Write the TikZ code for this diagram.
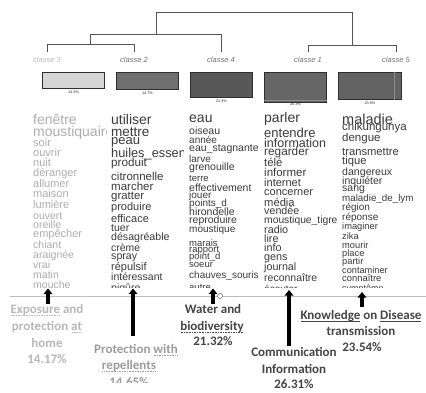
\documentclass[tikz,border=0pt]{standalone}
\usepackage{fontspec}
\setmainfont{Liberation Sans}
\newfontfamily\lblfont{Carlito}
\usetikzlibrary{arrows.meta}
\definecolor{dgray}{HTML}{555555}
\definecolor{clsgray}{HTML}{707070}
\definecolor{clslight}{HTML}{B8B8B8}
\definecolor{boxline}{HTML}{2E2E2E}
\definecolor{bA}{HTML}{D6D6D6}
\definecolor{bB}{HTML}{6F6F6F}
\definecolor{bC}{HTML}{585858}
\definecolor{bD}{HTML}{666666}
\definecolor{bE}{HTML}{626262}
\definecolor{wlight}{HTML}{ADADAD}
\definecolor{wdark}{HTML}{3A3A3A}
\definecolor{lone}{HTML}{B8B8B8}
\definecolor{ltwo}{HTML}{9C9C9C}
\definecolor{ldark}{HTML}{454545}
\definecolor{hline}{HTML}{BDBDBD}
\newcommand\dotu[1]{\setbox0\hbox{#1}\rlap{\copy0}\lower2.6pt\hbox to\wd0{\xleaders\hbox to 1.6pt{\hss\vrule width 0.9pt height 0.9pt\hss}\hfill}}
\newcommand\solu[1]{\setbox0\hbox{#1}\rlap{\copy0}\lower2.4pt\hbox to\wd0{\leaders\vrule height 0.7pt\hfill}}
\begin{document}
\begin{tikzpicture}[x=1pt,y=-1pt,
  dend/.style={draw=dgray, line width=0.8pt},
  cls/.style={font=\fontsize{7.5}{7.5}\selectfont\itshape, text=clsgray, inner sep=0},
  clsbox/.style={draw=boxline, line width=0.8pt, anchor=north west, inner sep=0, minimum width=62pt},
  pct/.style={font=\fontsize{3.8}{3.8}\selectfont, text=black!85, inner sep=0},
  word/.style={anchor=base west, inner sep=0, text=wdark},
  lbl/.style={font=\lblfont\bfseries\fontsize{13}{13}\selectfont, anchor=base, inner sep=0},
  uparrow/.style={line width=3.2pt, -{Triangle[width=8.5pt,length=5.5pt]}}]
\useasboundingbox (0,0) rectangle (426,392);

% dendrogram
\node[cls, text=clslight] (k3) at (47,59.5) {classe 3};
\node[cls] (k2) at (134,59.5) {classe 2};
\node[cls] (k4) at (221,59.5) {classe 4};
\node[cls] (k1) at (308,59.5) {classe 1};
\node[cls] (k5) at (396,59.5) {classe 5};
\coordinate (t3) at (47,52);
\coordinate (t2) at (134,52);
\coordinate (t4) at (221,52);
\coordinate (t1) at (308,52);
\coordinate (t5) at (396,52);
\coordinate (m32) at (90.5,44);
\coordinate (m324) at (156,34);
\coordinate (m15) at (352,45);
\draw[dend] (t3) -- ++(0,-8) -| (t2);
\draw[dend] (m32) -- ++(0,-10) -| (t4);
\draw[dend] (t1) -- ++(0,-7) -| (t5);
\draw[dend] (m324) -- ++(0,-22) -| (m15);

% boxes
\node[clsbox, fill=bA, minimum height=16pt] (b3) at (42,72) {};
\node[clsbox, fill=bB, minimum height=17pt] (b2) at (116,72) {};
\node[clsbox, fill=bC, minimum height=25pt] (b4) at (190,72) {};
\node[clsbox, fill=bD, minimum height=30pt] (b1) at (264,72) {};
\node[clsbox, fill=bE, minimum height=27pt, minimum width=63pt] (b5) at (338,72) {};
\draw[draw=black!45, line width=0.3pt] ([yshift=3pt]b1.south west) -- ([yshift=3pt]b1.south east);
\draw[draw=black!45, line width=0.3pt] ([xshift=-8pt]b5.north east) -- ([xshift=-8pt]b5.south east);
\node[pct] (p3) at ([yshift=-3pt]b3.south) {14.2\%};
\node[pct] (p2) at ([yshift=-3pt]b2.south) {14.7\%};
\node[pct] (p4) at ([yshift=-3.5pt]b4.south) {21.3\%};
\node[pct] (p1) at ([yshift=-1.8pt]b1.south) {26.3\%};
\node[pct] (p5) at ([yshift=-3pt]b5.south) {23.5\%};

% word columns
\begin{scope}
\clip (30,104) rectangle (106.5,287);
\foreach \y/\s/\w [count=\i] in {124/14/fenêtre, 136.5/14/moustiquaire, 146.5/11/soir, 156.5/11/ouvrir, 166.5/11/nuit, 176.5/11/déranger, 187/11/allumer, 197/11/maison, 208/11/lumière, 219/10.5/ouvert, 228/10.5/oreille, 237.5/11/empêcher, 248/10.5/chiant, 258/10.5/araignée, 268/10.5/vrai, 278/10.5/matin, 288.5/10.5/mouche}
  \node[word, text=wlight, font=\fontsize{\s}{\s}\selectfont] (wa\i) at (33,\y) {\w};
\end{scope}
\begin{scope}
\clip (108,104) rectangle (183.5,287);
\foreach \y/\s/\w [count=\i] in {124/14/utiliser, 136/13.5/mettre, 144.5/13/peau, 157/12.8/huiles\_essentielles, 166.5/11.7/produit, 180.5/11.5/citronnelle, 190.5/11.5/marcher, 199.5/11.4/gratter, 210.5/11/produire, 222.5/11/efficace, 231/10.5/tuer, 240/10.6/désagréable, 251/10.4/crème, 259/10.6/spray, 270/11/répulsif, 280/10.5/intéressant, 291/10.5/piqûre}
  \node[word, font=\fontsize{\s}{\s}\selectfont] (wb\i) at (111,\y) {\w};
\end{scope}
\begin{scope}
\clip (186,104) rectangle (262,287);
\foreach \y/\s/\w [count=\i] in {122/14/eau, 134/10.5/oiseau, 143/10/année, 151/10.5/eau\_stagnante, 162/10/larve, 170/10.5/grenouille, 181/9.5/terre, 191/10.5/effectivement, 198/10/jouer, 206/10/points\_d, 215/10.5/hirondelle, 223/10.5/reproduire, 232/10/moustique, 246/9.5/marais, 252/9.5/rapport, 259/9.5/point\_d, 267/9.5/soeur, 278.5/10/chauves\_souris, 290/9.5/autre}
  \node[word, font=\fontsize{\s}{\s}\selectfont] (wc\i) at (189,\y) {\w};
\end{scope}
\begin{scope}
\clip (262,104) rectangle (338.5,287);
\foreach \y/\s/\w [count=\i] in {122/14/parler, 137/13/entendre, 147/12.5/information, 155.5/11.8/regarder, 166.5/11.3/télé, 176.5/11.5/informer, 186/11/internet, 195/11/concerner, 206/11.2/média, 214/10.7/vendée, 223/10.3/moustique\_tigre, 233/10.8/radio, 242/10.8/lire, 251/10.8/info, 260/10.8/gens, 270/10.7/journal, 281/10.5/reconnaître, 292/10/écouter}
  \node[word, font=\fontsize{\s}{\s}\selectfont] (wd\i) at (264,\y) {\w};
\end{scope}
\begin{scope}
\clip (340,104) rectangle (413.5,287);
\foreach \y/\s/\w [count=\i] in {124/14.5/maladie, 130/11.5/chikungunya, 141/11.5/dengue, 155.5/11.2/transmettre, 164/11.2/tique, 175/10.6/dangereux, 184/10.5/inquiéter, 191/10.5/sang, 201/9.8/maladie\_de\_lyme, 210/10/région, 220/10/réponse, 229/9.3/imaginer, 239/9.3/zika, 248/9.3/mourir, 256/9.3/place, 264/9.3/partir, 273/9.2/contaminer, 281/9.4/connaître, 291/9/symptôme}
  \node[word, font=\fontsize{\s}{\s}\selectfont] (we\i) at (342,\y) {\w};
\end{scope}

% baseline
\coordinate (hl0) at (10,296);
\coordinate (hl1) at (426,296);
\draw[draw=hline, line width=1pt] (hl0) -- (hl1);

% labels
\node[lbl, text=lone] (l1a) at (47,313.5) {\dotu{Exposure} and};
\node[lbl, text=lone] (l1b) at (47,330.5) {protection \dotu{at}};
\node[lbl, text=lone] (l1c) at (47,347) {home};
\node[lbl, text=lone] (l1d) at (47,363) {14.17\%};
\begin{scope}
\clip (80,340) rectangle (190,382);
\node[lbl, text=ltwo] (l2a) at (136,353) {Protection \dotu{with}};
\node[lbl, text=ltwo] (l2b) at (129,369) {\dotu{repellents}};
\node[lbl, text=ltwo] (l2c) at (129,386) {14.65\%};
\end{scope}
\node[lbl, text=ldark] (l3a) at (213,313) {Water and};
\node[lbl, text=ldark] (l3b) at (212,330) {\dotu{biodiversity}};
\node[lbl, text=ldark] (l3c) at (213,345.5) {21.32\%};
\node[lbl, text=ldark] (l4a) at (294,356) {Communication};
\node[lbl, text=ldark] (l4b) at (294,373) {Information};
\node[lbl, text=ldark] (l4c) at (294,388.5) {26.31\%};
\node[lbl, text=ldark] (l5a) at (361,319) {\solu{Knowledge} on \solu{Disease}};
\node[lbl, text=ldark] (l5b) at (361,335) {transmission};
\node[lbl, text=ldark] (l5c) at (362,351) {23.54\%};

% arrows
\coordinate (a1s) at (48,303.5); \coordinate (a1e) at (48,288.5);
\coordinate (a2s) at (133,336); \coordinate (a2e) at (133,288.5);
\coordinate (a3s) at (213,303.5); \coordinate (a3e) at (213,288.5);
\coordinate (a4s) at (289,346); \coordinate (a4e) at (289,290);
\coordinate (a5s) at (362,307); \coordinate (a5e) at (362,292);
\draw[uparrow] (a1s) -- (a1e);
\draw[uparrow] (a2s) -- (a2e);
\draw[uparrow] (a3s) -- (a3e);
\draw[uparrow] (a4s) -- (a4e);
\draw[uparrow] (a5s) -- (a5e);
\node[circle, draw=black!55, fill=white, line width=0.6pt, inner sep=0, minimum size=5pt] (oc) at (220,296) {};
\end{tikzpicture}
\end{document}
